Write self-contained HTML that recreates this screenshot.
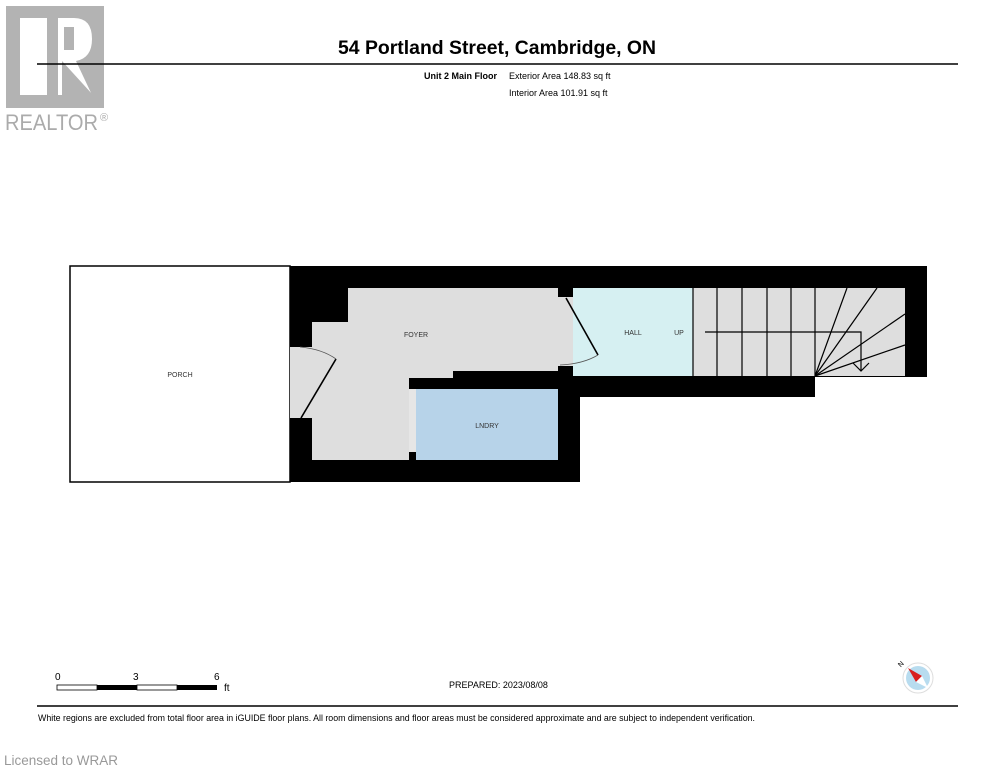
<!DOCTYPE html>
<html><head><meta charset="utf-8"><style>
html,body{margin:0;padding:0;background:#fff;}
svg{display:block;font-family:"Liberation Sans",Arial,sans-serif;}
</style></head><body>
<svg width="995" height="768" viewBox="0 0 995 768" xmlns="http://www.w3.org/2000/svg">
<rect width="995" height="768" fill="#fff"/>
<!-- REALTOR logo -->
<rect x="6" y="6" width="98" height="102" fill="#b3b3b3"/>
<rect x="20" y="18" width="27" height="77" fill="#fff"/>
<path d="M58 18 H74 Q92 18 92 39 Q92 58 76 61 L92 95 H58 Z" fill="#fff"/>
<rect x="64" y="27" width="10" height="23" fill="#b3b3b3"/>
<path d="M62 61 L93 95 H62 Z" fill="#b3b3b3"/>
<text x="5" y="130" font-size="22" fill="#ababab" textLength="93" lengthAdjust="spacingAndGlyphs">REALTOR</text>
<text x="100" y="121" font-size="11" fill="#ababab">®</text>
<!-- header -->
<text x="497" y="54" font-size="19" font-weight="bold" text-anchor="middle" textLength="318" lengthAdjust="spacingAndGlyphs">54 Portland Street, Cambridge, ON</text>
<line x1="37" y1="64" x2="958" y2="64" stroke="#000" stroke-width="1.5"/>
<text x="497" y="79" font-size="9" font-weight="bold" text-anchor="end">Unit 2 Main Floor</text>
<text x="509" y="79" font-size="9">Exterior Area 148.83 sq ft</text>
<text x="509" y="96" font-size="9">Interior Area 101.91 sq ft</text>
<!-- porch -->
<rect x="70" y="266" width="220" height="216" fill="#fff" stroke="#000" stroke-width="1.5"/>
<text x="180" y="377" font-size="7" text-anchor="middle" fill="#333">PORCH</text>
<!-- walls -->
<path d="M290 266 H927 V377 H815 V397 H580 V482 H290 Z" fill="#000"/>
<!-- foyer -->
<path d="M348 288 H558 V371 H453 V378 H409 V460 H312 V322 H348 Z" fill="#dedede"/>
<rect x="290" y="347" width="22" height="71" fill="#dedede"/>
<rect x="558" y="288" width="15" height="88" fill="#dedede"/>
<rect x="558" y="288" width="15" height="9" fill="#000"/>
<rect x="558" y="366" width="15" height="11" fill="#000"/>
<rect x="409" y="389" width="7" height="63" fill="#e6e6e6"/>
<text x="416" y="337" font-size="7" text-anchor="middle" fill="#333">FOYER</text>
<!-- laundry -->
<rect x="416" y="389" width="142" height="71" fill="#b7d3e9"/>
<text x="487" y="428" font-size="7" text-anchor="middle" fill="#333">LNDRY</text>
<!-- hall -->
<rect x="573" y="288" width="120" height="88" fill="#d6f0f2"/>
<text x="633" y="335" font-size="7" text-anchor="middle" fill="#333">HALL</text>
<text x="679" y="335" font-size="7" text-anchor="middle" fill="#333">UP</text>
<!-- doors -->
<line x1="301" y1="418" x2="336" y2="359" stroke="#000" stroke-width="1.6"/>
<path d="M300 347 Q322 349 336 359" fill="none" stroke="#555" stroke-width="0.8"/>
<line x1="566" y1="298" x2="598" y2="355" stroke="#000" stroke-width="1.6"/>
<path d="M598 355 Q583 364 560 365" fill="none" stroke="#555" stroke-width="0.8"/>
<!-- stairs -->
<rect x="693" y="288" width="212" height="88" fill="#dedede"/>
<g stroke="#000" stroke-width="1.2" fill="none">
<line x1="693" y1="288" x2="693" y2="376"/>
<line x1="717" y1="288" x2="717" y2="376"/>
<line x1="742" y1="288" x2="742" y2="376"/>
<line x1="767" y1="288" x2="767" y2="376"/>
<line x1="791" y1="288" x2="791" y2="376"/>
<line x1="815" y1="288" x2="815" y2="376"/>
<line x1="815" y1="376" x2="847" y2="288"/>
<line x1="815" y1="376" x2="877" y2="288"/>
<line x1="815" y1="376" x2="905" y2="314"/>
<line x1="815" y1="376" x2="905" y2="345"/>
<path d="M705 332 H861 V371"/>
<path d="M853 363 L861 371 L869 363"/>
</g>
<!-- scale bar -->
<text x="55" y="680" font-size="10">0</text>
<text x="133" y="680" font-size="10">3</text>
<text x="214" y="680" font-size="10">6</text>
<text x="224" y="691" font-size="10">ft</text>
<rect x="57" y="685" width="40" height="5" fill="#fff" stroke="#000" stroke-width="0.8"/>
<rect x="97" y="685" width="40" height="5" fill="#000"/>
<rect x="137" y="685" width="40" height="5" fill="#fff" stroke="#000" stroke-width="0.8"/>
<rect x="177" y="685" width="40" height="5" fill="#000"/>
<text x="449" y="688" font-size="9">PREPARED: 2023/08/08</text>
<!-- compass -->
<circle cx="918" cy="678" r="15" fill="#fff" stroke="#ddd" stroke-width="1"/>
<circle cx="918" cy="678" r="12" fill="#b8dcef"/>
<path d="M908 668 L922 676 L916 682 Z" fill="#d81e1e"/>
<path d="M922 676 L928 688 L916 682 Z" fill="#fff"/>
<text x="898" y="667" font-size="7" transform="rotate(-45 900 664)">N</text>
<!-- footer -->
<line x1="37" y1="706" x2="958" y2="706" stroke="#000" stroke-width="1.5"/>
<text x="38" y="721" font-size="9" textLength="717" lengthAdjust="spacingAndGlyphs">White regions are excluded from total floor area in iGUIDE floor plans. All room dimensions and floor areas must be considered approximate and are subject to independent verification.</text>
<text x="4" y="765" font-size="13.5" fill="#999">Licensed to WRAR</text>
</svg>
</body></html>
